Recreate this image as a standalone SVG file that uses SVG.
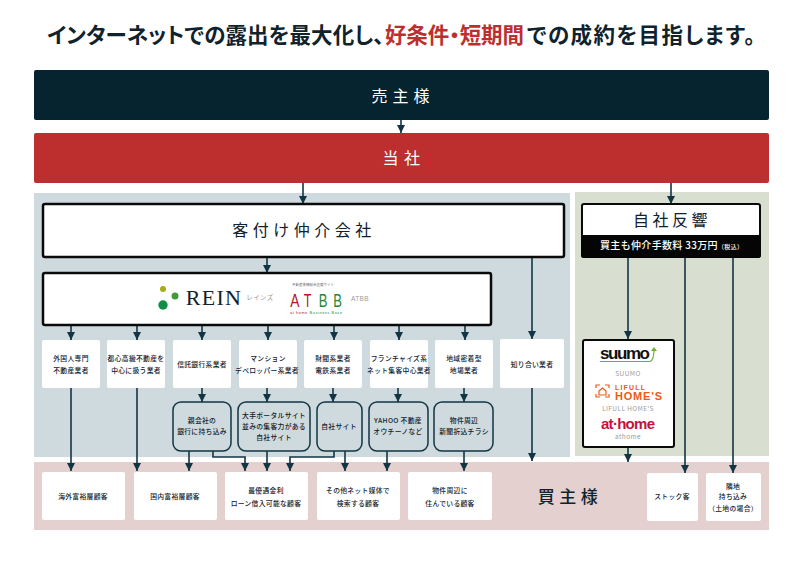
<svg xmlns="http://www.w3.org/2000/svg" width="800" height="565" viewBox="0 0 800 565">
<style>
text{font-family:"Noto Sans CJK JP","Noto Sans",sans-serif;text-anchor:middle;fill:#10222c}
.s{font-size:6.8px;font-weight:500;letter-spacing:.3px}
.t{font-size:21.5px;font-weight:700;text-anchor:start;font-feature-settings:'palt' 1}
.r{fill:#fff;stroke:none}
.rd{fill:#cfdade;stroke:#123544;stroke-width:1.5}
.b{fill:#fff;stroke:#0a0a0a;stroke-width:2.5}
.c{fill:none;stroke:#123544;stroke-width:1.6}
.g{fill:#9a9a9a;font-size:6.5px;letter-spacing:.4px}
.l{font-family:"Liberation Sans",sans-serif}
</style>
<defs>
<marker id="a" markerUnits="userSpaceOnUse" markerWidth="8" markerHeight="8" refX="8" refY="4" orient="auto"><path d="M0 0L8 4L0 8Z" fill="#123544"/></marker>
</defs>
<rect width="800" height="565" fill="#fff"/>
<g id="title">
<text class="t" x="47" y="43" textLength="337">インターネットでの露出を最大化し、</text>
<text class="t" x="385" y="43" textLength="139" style="fill:#bd2e2e">好条件・短期間</text>
<text class="t" x="527" y="43" textLength="228">での成約を目指します。</text>
</g>
<g id="panels">
<rect x="34" y="193" width="536" height="264" fill="#cfdade"/>
<rect x="575" y="192" width="194" height="264" fill="#d8dfd0"/>
<rect x="34" y="462" width="735" height="68" fill="#e3d0cf"/>
</g>
<g id="connectors" class="c">
<path d="M401 120V133" marker-end="url(#a)"/>
<path d="M303 183V204" marker-end="url(#a)"/>
<path d="M671 183V204" marker-end="url(#a)"/>
<path d="M267 257V273" marker-end="url(#a)"/>
<path d="M532 257V339" marker-end="url(#a)"/>
<path d="M532 388V461" marker-end="url(#a)"/>
<path d="M71 325V340" marker-end="url(#a)"/>
<path d="M137 325V340" marker-end="url(#a)"/>
<path d="M202 325V340" marker-end="url(#a)"/>
<path d="M268 325V340" marker-end="url(#a)"/>
<path d="M334 325V340" marker-end="url(#a)"/>
<path d="M399 325V340" marker-end="url(#a)"/>
<path d="M465 325V340" marker-end="url(#a)"/>
<path d="M202 388V402" marker-end="url(#a)"/>
<path d="M267 388V402" marker-end="url(#a)"/>
<path d="M333 388V402" marker-end="url(#a)"/>
<path d="M398 388V402" marker-end="url(#a)"/>
<path d="M464 388V402" marker-end="url(#a)"/>
<path d="M71 388V471" marker-end="url(#a)"/>
<path d="M137 388V471" marker-end="url(#a)"/>
<path d="M189 451V471" marker-end="url(#a)"/>
<path d="M213 451V457H245V471" marker-end="url(#a)"/>
<path d="M267 451V471" marker-end="url(#a)"/>
<path d="M334 451V457H290V471" marker-end="url(#a)"/>
<path d="M345 451V471" marker-end="url(#a)"/>
<path d="M387 451V471" marker-end="url(#a)"/>
<path d="M464 451V471" marker-end="url(#a)"/>
<path d="M628 257V339" marker-end="url(#a)"/>
<path d="M628 448V462" marker-end="url(#a)"/>
<path d="M685 257V473" marker-end="url(#a)"/>
<path d="M733 257V473" marker-end="url(#a)"/>
</g>
<g id="seller"><rect x="34" y="70" width="735" height="50" rx="2" fill="#05242f"/><text x="403" y="102" font-size="16" letter-spacing="5" style="fill:#fff">売主様</text></g>
<g id="company"><rect x="34" y="133" width="735" height="50" rx="2" fill="#bd2e2e"/><text x="404" y="164" font-size="16" letter-spacing="5.5" style="fill:#fff">当社</text></g>
<g id="agents"><rect class="b" x="43" y="204" width="521" height="53" rx="2"/><text x="304" y="236" font-size="16" letter-spacing="4.5">客付け仲介会社</text></g>
<g id="portal-db"><rect class="b" x="43" y="273" width="448" height="52" rx="2"/>
<circle cx="163" cy="289" r="3" fill="#a5ad12"/><circle cx="175" cy="296" r="3.5" fill="#3f9a3a"/><circle cx="163" cy="305" r="4.7" fill="#0f8f45"/>
<text x="214" y="305" font-size="22" letter-spacing="1.3" style="font-family:'Liberation Serif',serif">REIN</text>
<text class="g" x="260" y="300">レインズ</text>
<text x="313" y="286" font-size="3.5" style="fill:#666">不動産業務総合支援サイト</text>
<text class="l" transform="translate(295 307) scale(.66 .9)" font-size="21" style="fill:#b8151f">A</text>
<text class="l" transform="translate(307.5 307) scale(.6 .9)" font-size="21" style="fill:#b8151f">T</text>
<text class="l" transform="translate(323 307) scale(.62 .9)" font-size="21" style="fill:#1d8a33">B</text>
<text class="l" transform="translate(337.5 307) scale(.62 .9)" font-size="21" style="fill:#1d8a33">B</text>
<text class="l" x="316" y="314" font-size="3.8" style="fill:#1d8a33" textLength="52"><tspan style="fill:#b8151f">at home</tspan> Business Base</text>
<text class="g l" x="360" y="301">ATBB</text>
</g>
<g id="own"><rect x="582" y="204" width="178" height="53" rx="2" fill="#fff" stroke="#0a0a0a" stroke-width="2"/><path d="M581 235H761V255a3 3 0 0 1-3 3H584a3 3 0 0 1-3-3Z" fill="#050505"/>
<text x="672" y="226" font-size="16" letter-spacing="3.5">自社反響</text>
<text x="600" y="249" font-size="10" font-weight="500" style="fill:#fff;text-anchor:start" textLength="143">買主も仲介手数料 33万円<tspan font-size="6">（税込）</tspan></text></g>
<g id="portals"><rect class="b" x="583" y="340" width="91" height="107" rx="2" style="stroke-width:2"/>
<text class="l" x="600" y="359" font-size="17" font-weight="700" style="fill:#111;text-anchor:start" textLength="50">suumo</text>
<path d="M600 361.500H650Q654 360 654 349" fill="none" stroke="#6fb12c" stroke-width="1.2"/><path d="M651 351L654 347L657 351Z" fill="#6fb12c"/>
<text class="g" x="628" y="376">SUUMO</text>
<path d="M596 388V385H600M605 385H609V388M596 394V397H600M605 397H609V394M599 391L602.500 388L606 391V395H599Z" fill="none" stroke="#ee5a14" stroke-width="1.2"/>
<text class="l" x="615" y="390" font-size="7" font-weight="700" style="fill:#ee5a14;text-anchor:start" textLength="30">LIFULL</text>
<text class="l" x="615" y="400" font-size="11" font-weight="700" style="fill:#ee5a14;text-anchor:start" textLength="47">HOME'S</text>
<text class="g" x="628" y="411">LIFULL HOME'S</text>
<text class="l" x="601" y="429" font-size="15" font-weight="700" style="fill:#c4123c;text-anchor:start" textLength="54">at·home</text>
<text class="g" x="628" y="439">athome</text></g>
<g id="a1"><rect class="r" x="42" y="340" width="58" height="48" rx="2"/><text class="s" x="71" y="361">外国人専門</text><text class="s" x="71" y="373">不動産業者</text></g>
<g id="a2"><rect class="r" x="107" y="340" width="58" height="48" rx="2"/><text class="s" x="136" y="361">都心高級不動産を</text><text class="s" x="136" y="373">中心に扱う業者</text></g>
<g id="a3"><rect class="r" x="173" y="340" width="58" height="48" rx="2"/><text class="s" x="202" y="367">信託銀行系業者</text></g>
<g id="a4"><rect class="r" x="239" y="340" width="58" height="48" rx="2"/><text class="s" x="268" y="361">マンション</text><text class="s" x="267" y="373">デベロッパー系業者</text></g>
<g id="a5"><rect class="r" x="304" y="340" width="58" height="48" rx="2"/><text class="s" x="333" y="361">財閥系業者</text><text class="s" x="333" y="373">電鉄系業者</text></g>
<g id="a6"><rect class="r" x="370" y="340" width="58" height="48" rx="2"/><text class="s" x="399" y="361">フランチャイズ系</text><text class="s" x="399" y="373">ネット集客中心業者</text></g>
<g id="a7"><rect class="r" x="435" y="340" width="58" height="48" rx="2"/><text class="s" x="464" y="361">地域密着型</text><text class="s" x="464" y="373">地場業者</text></g>
<g id="a8"><rect class="r" x="500" y="339" width="64" height="49" rx="2"/><text class="s" x="532" y="367">知り合い業者</text></g>
<g id="m1"><rect class="rd" x="173" y="402" width="58" height="49" rx="8"/><text class="s" x="202" y="423">親会社の</text><text class="s" x="202" y="434">銀行に持ち込み</text></g>
<g id="m2"><rect class="rd" x="238" y="402" width="72" height="49" rx="8"/><text class="s" x="274" y="418">大手ポータルサイト</text><text class="s" x="274" y="429">並みの集客力がある</text><text class="s" x="274" y="440">自社サイト</text></g>
<g id="m3"><rect class="rd" x="317" y="402" width="45" height="49" rx="8"/><text class="s" x="339" y="429">自社サイト</text></g>
<g id="m4"><rect class="rd" x="369" y="402" width="59" height="49" rx="8"/><text class="s" x="398" y="423">YAHOO 不動産</text><text class="s" x="398" y="434">オウチーノなど</text></g>
<g id="m5"><rect class="rd" x="434" y="402" width="59" height="49" rx="8"/><text class="s" x="464" y="423">物件周辺</text><text class="s" x="464" y="434">新聞折込チラシ</text></g>
<g id="c1"><rect class="r" x="42" y="472" width="83" height="48" rx="2"/><text class="s" x="83" y="499">海外富裕層顧客</text></g>
<g id="c2"><rect class="r" x="134" y="472" width="83" height="48" rx="2"/><text class="s" x="175" y="499">国内富裕層顧客</text></g>
<g id="c3"><rect class="r" x="225" y="472" width="83" height="48" rx="2"/><text class="s" x="266" y="493">最優遇金利</text><text class="s" x="266" y="506">ローン借入可能な顧客</text></g>
<g id="c4"><rect class="r" x="317" y="472" width="83" height="48" rx="2"/><text class="s" x="358" y="493">その他ネット媒体で</text><text class="s" x="358" y="506">検索する顧客</text></g>
<g id="c5"><rect class="r" x="408" y="472" width="84" height="48" rx="2"/><text class="s" x="450" y="493">物件周辺に</text><text class="s" x="450" y="506">住んでいる顧客</text></g>
<g id="buyer"><text x="570" y="503" font-size="17" font-weight="500" letter-spacing="4.500">買主様</text></g>
<g id="c6"><rect class="r" x="647" y="473" width="51" height="48" rx="2"/><text class="s" x="672" y="499">ストック客</text></g>
<g id="c7"><rect class="r" x="706" y="473" width="55" height="48" rx="2"/><text class="s" x="733" y="489">隣地</text><text class="s" x="733" y="499">持ち込み</text><text class="s" x="733" y="511">（土地の場合）</text></g>
</svg>
